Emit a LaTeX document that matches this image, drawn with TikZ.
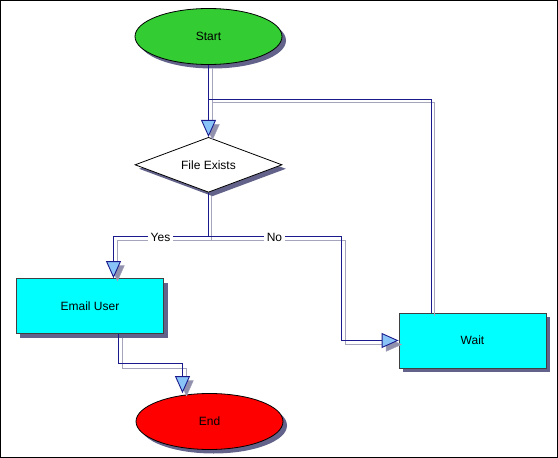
\documentclass[tikz,border=0pt]{standalone}
\usepackage{fontspec}
\setmainfont{Liberation Sans}
\usepackage{tikz}
\usetikzlibrary{arrows.meta, positioning, shapes.geometric, shadows}
\definecolor{startgreen}{HTML}{33CC33}
\definecolor{endred}{HTML}{FF0000}
\definecolor{taskcyan}{HTML}{00FFFF}
\definecolor{linenavy}{HTML}{1A1A8C}
\definecolor{lineshade}{HTML}{A4A4BC}
\definecolor{nodeshade}{HTML}{62628A}
\definecolor{tipblue}{HTML}{88C4F8}

\begin{document}
\begin{tikzpicture}[
  x=1pt, y=-1pt,
  font=\fontsize{12}{14}\selectfont,
  shade/.style={drop shadow={shadow xshift=4pt,shadow yshift=-4pt,fill=nodeshade,opacity=1}},
  terminal/.style={ellipse,draw=black,line width=0.8pt,minimum width=147pt,minimum height=56pt,inner sep=0pt,shade},
  decision/.style={diamond,draw=black,line width=0.8pt,fill=white,aspect=2.7,minimum width=147pt,minimum height=55pt,inner sep=0pt,shade},
  task/.style={rectangle,draw=black!75,line width=0.8pt,fill=taskcyan,minimum width=147pt,minimum height=55pt,shade},
  line/.style={draw=linenavy,line width=0.9pt,
    preaction={draw=lineshade,transform canvas={shift={(3pt,-3pt)}}}},
  conn/.style={draw=linenavy,line width=0.9pt,-{Triangle[length=17pt,width=15pt,fill=tipblue]},
    preaction={draw=lineshade,-{Triangle[length=17pt,width=15pt,fill=nodeshade!70]},transform canvas={shift={(4pt,-4pt)}}}},
  lbl/.style={fill=white,inner sep=3pt}
]
\useasboundingbox (-0.5,-0.5) rectangle (557.5,457.5);
\draw[line width=1pt] (0,0) rectangle (557,457);

\node[terminal,fill=startgreen] (start) at (208,36) {Start};
\node[decision,below=72pt of start] (exists) {File Exists};
\node[task] (email) at (89.5,305.5) {Email User};
\node[task] (wait) at (472,340) {Wait};
\node[terminal,fill=endred] (end) at (209,421) {End};

\coordinate (merge) at (208,99);
\coordinate (split) at (208,236);
\coordinate (nobend) at (341,236);

\draw[conn] (start.south) -- (exists.north);
\draw[line] ([xshift=-41pt]wait.north) |- (merge);
\draw[line] (exists.south) -- (split);
\draw[conn] (split) -| (email.north -| 113,0);
\draw[conn] (split) -- (nobend) |- (wait.west);
\draw[conn] ([xshift=28.5pt]email.south) -- ++(0,30) -| ([xshift=-27pt]end.north);

\node[lbl] (yes) at (160,237) {Yes};
\node[lbl] (no) at (274,237) {No};
\end{tikzpicture}
\end{document}
